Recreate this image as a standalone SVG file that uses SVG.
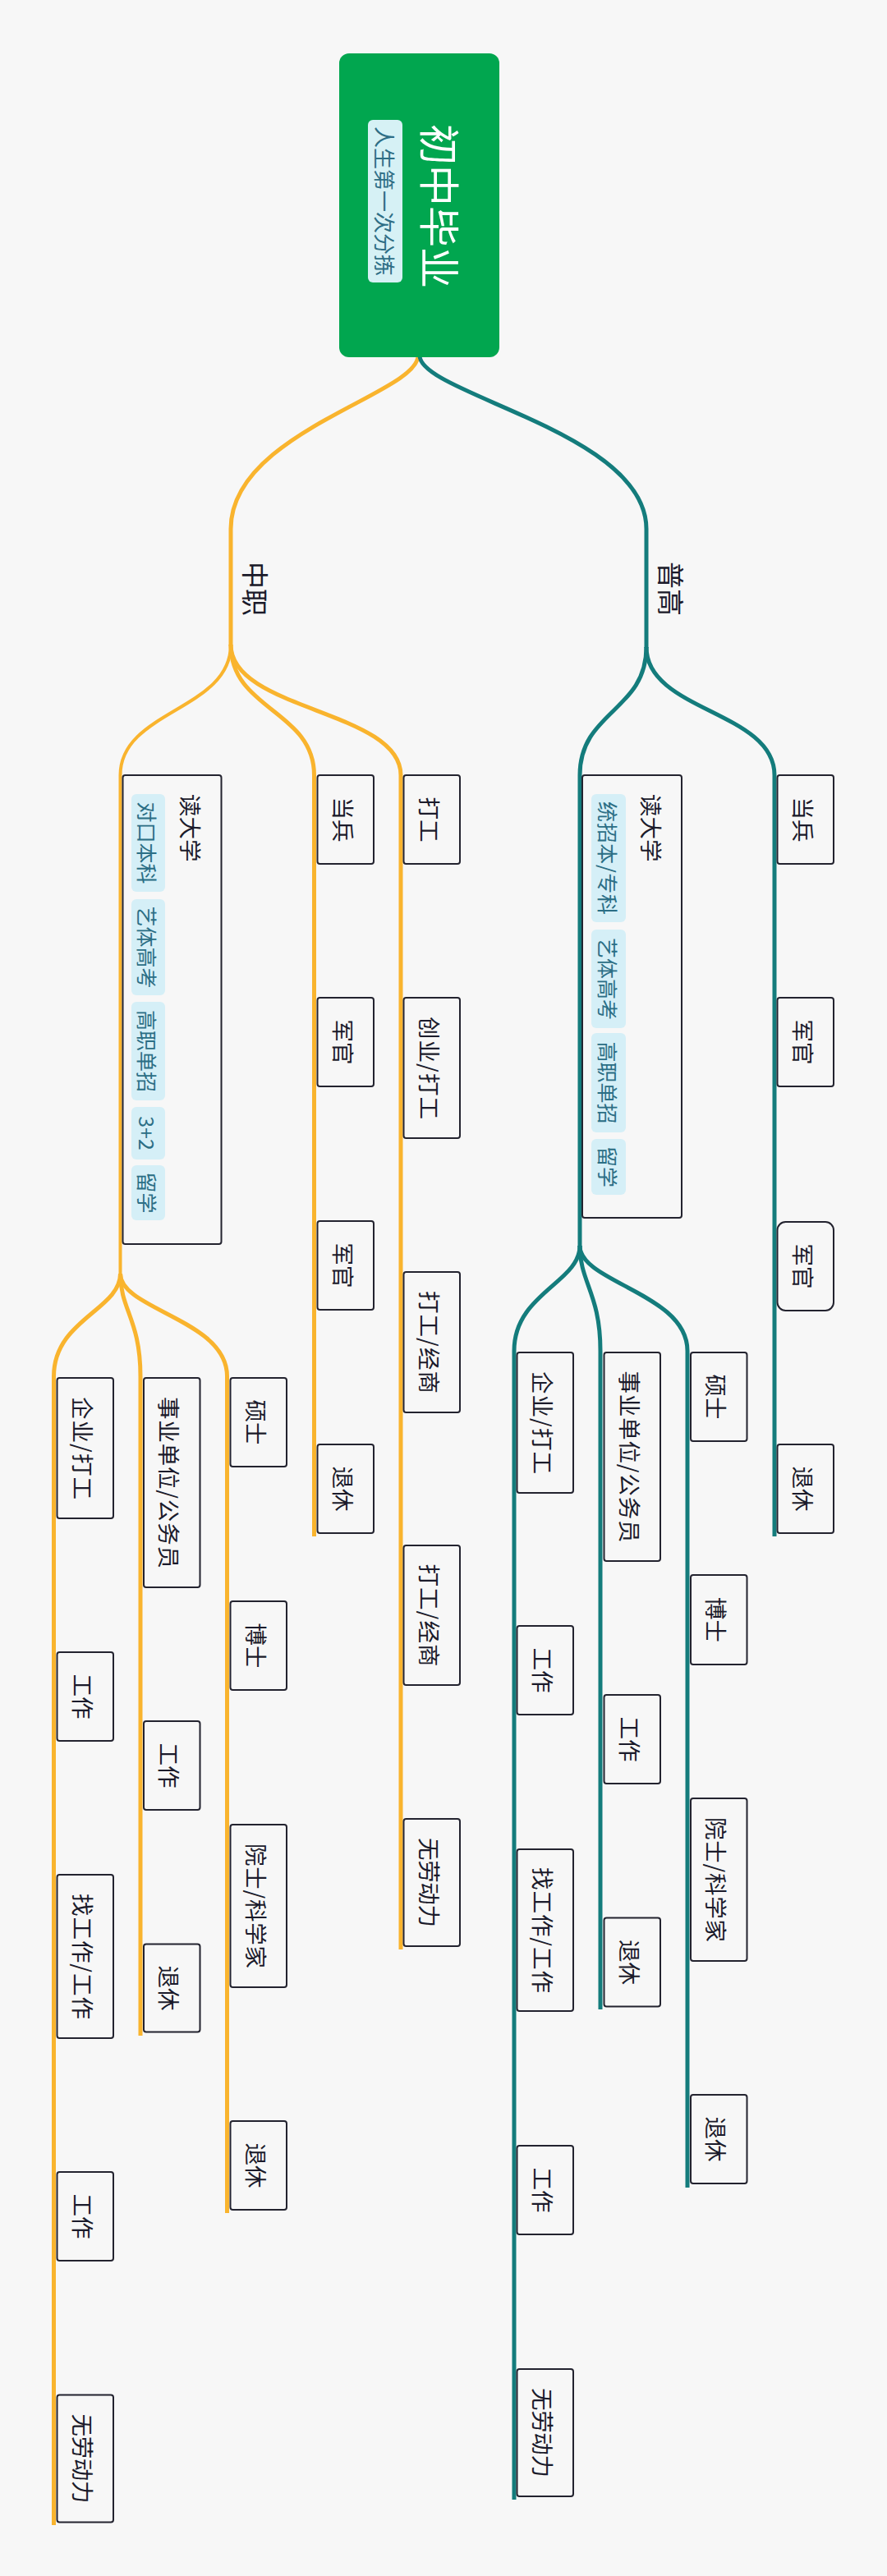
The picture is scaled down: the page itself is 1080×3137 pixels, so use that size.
<svg xmlns="http://www.w3.org/2000/svg" width="1080" height="3137" viewBox="0 0 1080 3137">
<style>
.bg{fill:#F7F7F7}
.box{fill:#F7F7F7;stroke:#23232F;stroke-width:2}
.t{fill:#1B1B2B;font-family:"Noto Sans CJK SC","Noto Sans",sans-serif;font-size:27.5px;text-anchor:middle;dominant-baseline:central}
.ts{fill:#1B1B2B;font-family:"Noto Sans CJK SC","Noto Sans",sans-serif;font-size:27.5px;text-anchor:start;dominant-baseline:central}
.l1{fill:#1B1B2B;font-family:"Noto Sans CJK SC","Noto Sans",sans-serif;font-size:33px;text-anchor:middle;dominant-baseline:central}
.tag{fill:#D5EFF7}
.tagt{fill:#2B6E85;font-family:"Noto Sans CJK SC","Noto Sans",sans-serif;font-size:25px;text-anchor:middle;dominant-baseline:central}
.title{fill:#FFFFFF;font-family:"Noto Sans CJK SC","Noto Sans",sans-serif;font-size:50px;text-anchor:middle;dominant-baseline:central}
.sub{fill:#2E6E85;font-family:"Noto Sans CJK SC","Noto Sans",sans-serif;font-size:26px;text-anchor:middle;dominant-baseline:central}
.lo{fill:none;stroke:#F9B42E;stroke-width:5}
.lt{fill:none;stroke:#147C7C;stroke-width:5}
</style>
<rect class="bg" x="0" y="0" width="1080" height="3137"/>
<g id="connectors">
<path class="lo" d="M509,433 C509,480 281,526 281,644 L281,786"/>
<path class="lo" style="stroke-width:4" d="M281,785 C281,865 146.5,865 146.5,944 L146.5,1552"/>
<path class="lo" d="M281,785 C281,865 382.5,865 382.5,944 L382.5,1871"/>
<path class="lo" d="M281,785 C281,865 488,865 488,944 L488,2374"/>
<path class="lo" d="M146.5,1551 C146.5,1595 65.5,1607 65.5,1676 L65.5,3075"/>
<path class="lo" d="M146.5,1551 C146.5,1595 171,1607 171,1676 L171,2479"/>
<path class="lo" d="M146.5,1551 C146.5,1595 276.5,1607 276.5,1676 L276.5,2695"/>
<path class="lt" d="M511,433 C511,480 787,526 787,644 L787,789"/>
<path class="lt" d="M787,788 C787,866 706,866 706,944 L706,1518"/>
<path class="lt" d="M787,788 C787,866 943,866 943,944 L943,1871"/>
<path class="lt" d="M706,1517 C706,1562 626,1575 626,1645 L626,3044"/>
<path class="lt" d="M706,1517 C706,1562 731,1575 731,1645 L731,2447"/>
<path class="lt" d="M706,1517 C706,1562 837,1575 837,1645 L837,2664"/>
</g>
<g id="root">
<rect x="413" y="65" width="195" height="370" rx="12" fill="#01A64F"/>
<text class="title" transform="translate(538,251) rotate(90)">初中毕业</text>
<rect class="tag" x="448" y="146" width="42" height="198" rx="6" style="fill:#D6F1F5"/>
<text class="sub" transform="translate(469,245) rotate(90)">人生第一次分拣</text>
</g>
<g id="zhongzhi"><text class="l1" transform="translate(312,717) rotate(90)">中职</text></g>
<g id="pugao"><text class="l1" transform="translate(818,717) rotate(90)">普高</text></g>
<g id="o-dudaxue">
<rect class="box" x="149.5" y="944" width="120" height="571" rx="3"/>
<text class="ts" transform="translate(233,967) rotate(90)">读大学</text>
<rect class="tag" x="160" y="967" width="41" height="119" rx="6"/>
<text class="tagt" transform="translate(180,1026.5) rotate(90)">对口本科</text>
<rect class="tag" x="160" y="1095" width="41" height="117" rx="6"/>
<text class="tagt" transform="translate(180,1153.5) rotate(90)">艺体高考</text>
<rect class="tag" x="160" y="1220" width="41" height="120" rx="6"/>
<text class="tagt" transform="translate(180,1280) rotate(90)">高职单招</text>
<rect class="tag" x="160" y="1348" width="41" height="64" rx="6"/>
<text class="tagt" transform="translate(180,1380) rotate(90)">3+2</text>
<rect class="tag" x="160" y="1419" width="41" height="67" rx="6"/>
<text class="tagt" transform="translate(180,1452.5) rotate(90)">留学</text>
</g>
<g id="o-dangbing"><rect class="box" x="386.5" y="944" width="68.5" height="108" rx="3"/><text class="t" transform="translate(418.5,998) rotate(90)">当兵</text></g>
<g id="o-junguan1"><rect class="box" x="386.5" y="1215" width="68.5" height="108" rx="3"/><text class="t" transform="translate(418.5,1269) rotate(90)">军官</text></g>
<g id="o-junguan2"><rect class="box" x="386.5" y="1487" width="68.5" height="108" rx="3"/><text class="t" transform="translate(418.5,1541) rotate(90)">军官</text></g>
<g id="o-tuixiu1"><rect class="box" x="386.5" y="1759" width="68.5" height="108" rx="3"/><text class="t" transform="translate(418.5,1813) rotate(90)">退休</text></g>
<g id="o-dagong"><rect class="box" x="491.5" y="944" width="68.5" height="108" rx="3"/><text class="t" transform="translate(523.5,998) rotate(90)">打工</text></g>
<g id="o-chuangye"><rect class="box" x="491.5" y="1215" width="68.5" height="171" rx="3"/><text class="t" transform="translate(523.5,1300.5) rotate(90)" textLength="125" lengthAdjust="spacing">创业/打工</text></g>
<g id="o-jingshang1"><rect class="box" x="491.5" y="1549" width="68.5" height="171" rx="3"/><text class="t" transform="translate(523.5,1634.5) rotate(90)" textLength="125" lengthAdjust="spacing">打工/经商</text></g>
<g id="o-jingshang2"><rect class="box" x="491.5" y="1882" width="68.5" height="170" rx="3"/><text class="t" transform="translate(523.5,1967) rotate(90)" textLength="125" lengthAdjust="spacing">打工/经商</text></g>
<g id="o-wulaodong1"><rect class="box" x="491.5" y="2215" width="68.5" height="155" rx="3"/><text class="t" transform="translate(523.5,2292.5) rotate(90)" textLength="109" lengthAdjust="spacing">无劳动力</text></g>
<g id="o-qiye"><rect class="box" x="69.5" y="1678" width="68.5" height="171" rx="3"/><text class="t" transform="translate(101.5,1763.5) rotate(90)" textLength="125" lengthAdjust="spacing">企业/打工</text></g>
<g id="o-gongzuo1"><rect class="box" x="69.5" y="2012" width="68.5" height="108" rx="3"/><text class="t" transform="translate(101.5,2066) rotate(90)">工作</text></g>
<g id="o-zhaogongzuo"><rect class="box" x="69.5" y="2283" width="68.5" height="199" rx="3"/><text class="t" transform="translate(101.5,2382.5) rotate(90)" textLength="153" lengthAdjust="spacing">找工作/工作</text></g>
<g id="o-gongzuo2"><rect class="box" x="69.5" y="2645" width="68.5" height="108" rx="3"/><text class="t" transform="translate(101.5,2699) rotate(90)">工作</text></g>
<g id="o-wulaodong2"><rect class="box" x="69.5" y="2916.5" width="68.5" height="155" rx="3"/><text class="t" transform="translate(101.5,2994) rotate(90)" textLength="109" lengthAdjust="spacing">无劳动力</text></g>
<g id="o-shiye"><rect class="box" x="175" y="1678" width="68.5" height="255" rx="3"/><text class="t" transform="translate(207,1805.5) rotate(90)" textLength="209" lengthAdjust="spacing">事业单位/公务员</text></g>
<g id="o-gongzuo3"><rect class="box" x="175" y="2096" width="68.5" height="108" rx="3"/><text class="t" transform="translate(207,2150) rotate(90)">工作</text></g>
<g id="o-tuixiu2"><rect class="box" x="175" y="2367.5" width="68.5" height="107" rx="3"/><text class="t" transform="translate(207,2421) rotate(90)">退休</text></g>
<g id="o-shuoshi"><rect class="box" x="280.5" y="1678" width="68.5" height="108" rx="3"/><text class="t" transform="translate(312.5,1732) rotate(90)">硕士</text></g>
<g id="o-boshi"><rect class="box" x="280.5" y="1950" width="68.5" height="108" rx="3"/><text class="t" transform="translate(312.5,2004) rotate(90)">博士</text></g>
<g id="o-yuanshi"><rect class="box" x="280.5" y="2222" width="68.5" height="198" rx="3"/><text class="t" transform="translate(312.5,2321) rotate(90)" textLength="152" lengthAdjust="spacing">院士/科学家</text></g>
<g id="o-tuixiu3"><rect class="box" x="280.5" y="2583" width="68.5" height="108" rx="3"/><text class="t" transform="translate(312.5,2637) rotate(90)">退休</text></g>
<g id="t-dudaxue">
<rect class="box" x="709" y="944" width="121" height="539" rx="3"/>
<text class="ts" transform="translate(794,967) rotate(90)">读大学</text>
<rect class="tag" x="720" y="967" width="42" height="156" rx="6"/>
<text class="tagt" transform="translate(741,1045) rotate(90)" textLength="138" lengthAdjust="spacing">统招本/专科</text>
<rect class="tag" x="720" y="1132" width="42" height="120" rx="6"/>
<text class="tagt" transform="translate(741,1192) rotate(90)">艺体高考</text>
<rect class="tag" x="720" y="1258" width="42" height="121" rx="6"/>
<text class="tagt" transform="translate(741,1318.5) rotate(90)">高职单招</text>
<rect class="tag" x="720" y="1387" width="42" height="68" rx="6"/>
<text class="tagt" transform="translate(741,1421) rotate(90)">留学</text>
</g>
<g id="t-dangbing"><rect class="box" x="946.5" y="944" width="68.5" height="108" rx="3"/><text class="t" transform="translate(978.5,998) rotate(90)">当兵</text></g>
<g id="t-junguan1"><rect class="box" x="946.5" y="1215" width="68.5" height="108" rx="3"/><text class="t" transform="translate(978.5,1269) rotate(90)">军官</text></g>
<g id="t-junguan2"><rect class="box" x="946.5" y="1488" width="68.5" height="108" rx="10"/><text class="t" transform="translate(978.5,1542) rotate(90)">军官</text></g>
<g id="t-tuixiu1"><rect class="box" x="946.5" y="1759" width="68.5" height="108" rx="3"/><text class="t" transform="translate(978.5,1813) rotate(90)">退休</text></g>
<g id="t-qiye"><rect class="box" x="629.5" y="1647" width="68.5" height="171" rx="3"/><text class="t" transform="translate(661.5,1732.5) rotate(90)" textLength="125" lengthAdjust="spacing">企业/打工</text></g>
<g id="t-gongzuo1"><rect class="box" x="629.5" y="1980" width="68.5" height="108" rx="3"/><text class="t" transform="translate(661.5,2034) rotate(90)">工作</text></g>
<g id="t-zhaogongzuo"><rect class="box" x="629.5" y="2252" width="68.5" height="197" rx="3"/><text class="t" transform="translate(661.5,2350.5) rotate(90)" textLength="153" lengthAdjust="spacing">找工作/工作</text></g>
<g id="t-gongzuo2"><rect class="box" x="629.5" y="2613" width="68.5" height="108" rx="3"/><text class="t" transform="translate(661.5,2667) rotate(90)">工作</text></g>
<g id="t-wulaodong"><rect class="box" x="629.5" y="2885" width="68.5" height="155" rx="3"/><text class="t" transform="translate(661.5,2962.5) rotate(90)" textLength="109" lengthAdjust="spacing">无劳动力</text></g>
<g id="t-shiye"><rect class="box" x="735.5" y="1647" width="68.5" height="254" rx="3"/><text class="t" transform="translate(767.5,1774) rotate(90)" textLength="209" lengthAdjust="spacing">事业单位/公务员</text></g>
<g id="t-gongzuo3"><rect class="box" x="735.5" y="2064" width="68.5" height="108" rx="3"/><text class="t" transform="translate(767.5,2118) rotate(90)">工作</text></g>
<g id="t-tuixiu2"><rect class="box" x="735.5" y="2335.5" width="68.5" height="108" rx="3"/><text class="t" transform="translate(767.5,2389.5) rotate(90)">退休</text></g>
<g id="t-shuoshi"><rect class="box" x="841" y="1647" width="68.5" height="108" rx="3"/><text class="t" transform="translate(873,1701) rotate(90)">硕士</text></g>
<g id="t-boshi"><rect class="box" x="841" y="1918" width="68.5" height="109" rx="3"/><text class="t" transform="translate(873,1972.5) rotate(90)">博士</text></g>
<g id="t-yuanshi"><rect class="box" x="841" y="2190" width="68.5" height="198" rx="3"/><text class="t" transform="translate(873,2289) rotate(90)" textLength="152" lengthAdjust="spacing">院士/科学家</text></g>
<g id="t-tuixiu3"><rect class="box" x="841" y="2551" width="68.5" height="108" rx="3"/><text class="t" transform="translate(873,2605) rotate(90)">退休</text></g>
</svg>
